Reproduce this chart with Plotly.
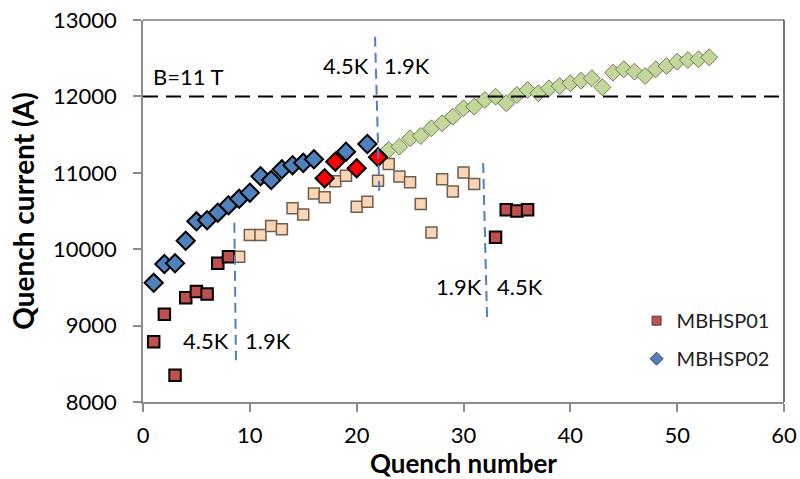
import plotly.graph_objects as go

# ---- data ----
p01_a_x = [1, 2, 3, 4, 5, 6, 7, 8]
p01_a_y = [8790, 9150, 8350, 9365, 9445, 9415, 9815, 9900]
p01_b_x = list(range(9, 32))
p01_b_y = [9900, 10185, 10185, 10305, 10260, 10535, 10455, 10730, 10680, 10890,
           10960, 10555, 10620, 10895, 11115, 10950, 10875, 10590, 10220, 10915,
           10755, 11005, 10855]
p01_c_x = [33, 34, 35, 36]
p01_c_y = [10155, 10515, 10500, 10515]

p02_a_x = list(range(1, 17)) + [19, 21]
p02_a_y = [9560, 9805, 9815, 10110, 10365, 10380, 10478, 10576, 10660, 10740,
           10955, 10905, 11045, 11100, 11130, 11177, 11276, 11377]
p02_b_x = [17, 18, 20, 22]
p02_b_y = [10928, 11146, 11059, 11203]
p02_c_x = list(range(23, 54))
p02_c_y = [11300, 11342, 11452, 11482, 11583, 11648, 11735, 11845, 11866, 11953,
           11996, 11910, 12019, 12084, 12041, 12106, 12136, 12172, 12206, 12237,
           12120, 12311, 12355, 12324, 12267, 12355, 12398, 12454, 12477, 12486,
           12512]

field_level = 12000
temp_lines = [((8.55, 10345), (8.7, 8545)),
              ((21.72, 12780), (22.13, 10710)),
              ((31.84, 11128), (32.21, 9060))]
labels = [("B=11 T", 4.2, 12258), ("4.5K", 19.0, 12398), ("1.9K", 24.7, 12398),
          ("4.5K", 5.85, 8802), ("1.9K", 11.66, 8802),
          ("1.9K", 29.6, 9509), ("4.5K", 35.3, 9509)]

FONT = "Lato, Open Sans, sans-serif"
fig = go.Figure()

def sq(x, y, fill, line, lw, size):
    fig.add_trace(go.Scatter(x=x, y=y, mode="markers", showlegend=False,
                             marker=dict(symbol="square", size=size, color=fill,
                                         line=dict(color=line, width=lw))))

def dm(x, y, fill, line, lw, size):
    fig.add_trace(go.Scatter(x=x, y=y, mode="markers", showlegend=False,
                             marker=dict(symbol="diamond", size=size, color=fill,
                                         line=dict(color=line, width=lw))))

sq(p01_b_x, p01_b_y, "#FCD5B5", "#6E5E50", 1.5, 11)
sq(p01_a_x, p01_a_y, "#C0504D", "#000000", 2, 11.5)
sq(p01_c_x, p01_c_y, "#C0504D", "#000000", 2, 11.5)
dm(p02_c_x, p02_c_y, "#C3D69B", "#6F7F55", 1, 13)
dm(p02_a_x, p02_a_y, "#4F81BD", "#000000", 2, 14)
dm(p02_b_x, p02_b_y, "#FF0000", "#000000", 2, 14)

# legend entries
fig.add_trace(go.Scatter(x=[None], y=[None], mode="markers", name="MBHSP01",
                         legendgroup="a",
                         marker=dict(symbol="square", size=9, color="#C0504D",
                                     line=dict(color="#404040", width=1))))
fig.add_trace(go.Scatter(x=[None], y=[None], mode="markers", name="MBHSP02",
                         legendgroup="b",
                         marker=dict(symbol="diamond", size=10, color="#4F81BD",
                                     line=dict(color="#404040", width=1))))

shapes = [dict(type="line", xref="paper", yref="y", x0=0, x1=1, y0=field_level,
               y1=field_level, line=dict(color="black", width=2, dash="15px,8px"),
               layer="above")]
for (a, b) in temp_lines:
    shapes.append(dict(type="line", xref="x", yref="y", x0=a[0], y0=a[1],
                       x1=b[0], y1=b[1], layer="above",
                       line=dict(color="#4F81BD", width=2, dash="10px,6px")))
shapes.append(dict(type="line", xref="paper", yref="paper", x0=0, x1=1, y0=1, y1=1,
                   line=dict(color="#404040", width=1.2)))
shapes.append(dict(type="line", xref="paper", yref="paper", x0=1, x1=1, y0=0, y1=1,
                   line=dict(color="#202020", width=1.2)))

annotations = [dict(text=t, x=x, y=y, xref="x", yref="y", showarrow=False,
                    font=dict(family=FONT, size=22, color="black"))
               for (t, x, y) in labels]

fig.update_layout(
    width=800, height=479,
    margin=dict(l=143, r=16, t=20, b=77),
    paper_bgcolor="white", plot_bgcolor="white",
    font=dict(family=FONT, color="black"),
    shapes=shapes, annotations=annotations,
    legend=dict(x=0.77, y=0.264, xanchor="left", yanchor="top",
                font=dict(family=FONT, size=20, color="#202020"),
                bgcolor="rgba(0,0,0,0)", tracegroupgap=9),
    xaxis=dict(range=[0, 60], dtick=10, showgrid=False, zeroline=False,
               automargin=False,
               showline=True, linecolor="#8C8C8C", linewidth=1.5,
               ticks="outside", ticklen=8, tickcolor="#8C8C8C", tickwidth=1.5,
               tickfont=dict(family=FONT, size=22, color="black"),
               ticklabelstandoff=5,
               title=dict(text="<b>Quench number</b>", standoff=17,
                          font=dict(family=FONT, size=26, color="black"))),
    yaxis=dict(range=[8000, 13000], dtick=1000, showgrid=False, zeroline=False,
               automargin=False, tickformat="d",
               showline=True, linecolor="#8C8C8C", linewidth=1.5,
               ticks="outside", ticklen=8, tickcolor="#8C8C8C", tickwidth=1.5,
               tickfont=dict(family=FONT, size=22, color="black"),
               ticklabelstandoff=12,
               title=dict(text="<b>Quench current (A)</b>", standoff=10,
                          font=dict(family=FONT, size=28, color="black"))),
)

fig.write_html("out.html", config={"displayModeBar": False},
               post_script="document.body.style.margin='0';document.body.style.overflow='hidden';")
